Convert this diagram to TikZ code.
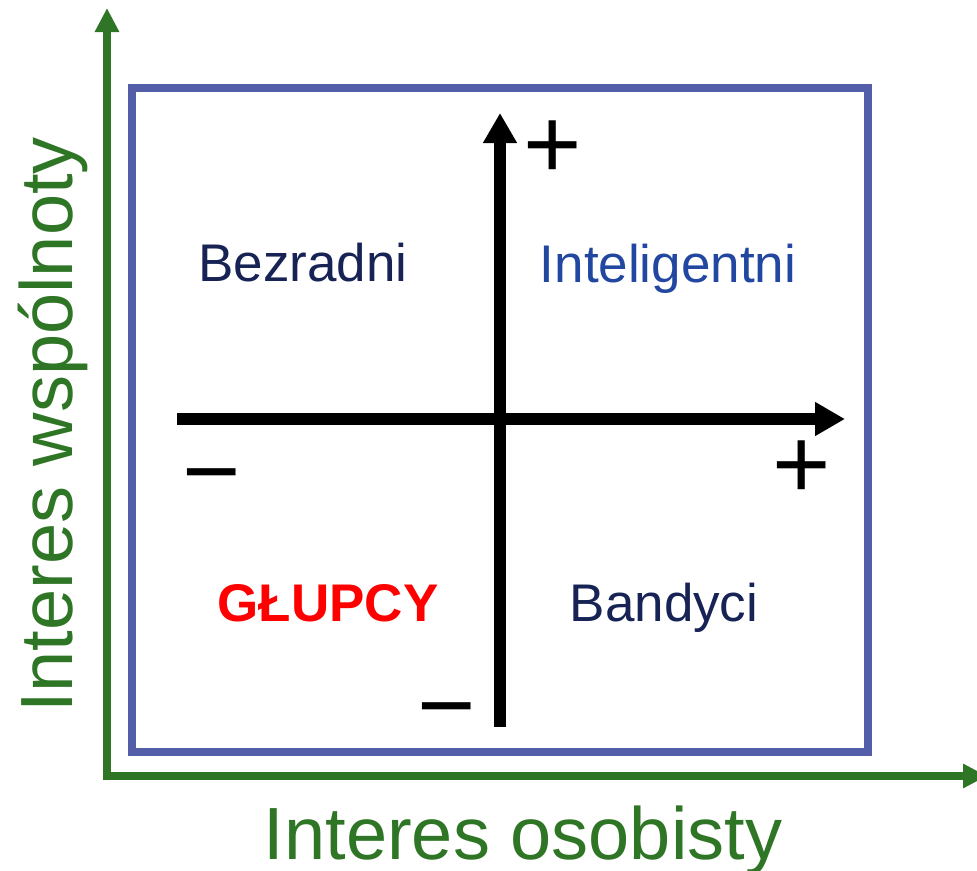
\documentclass[tikz,border=0pt]{standalone}
\usepackage{fontspec}
\setmainfont{Liberation Sans}
\usetikzlibrary{arrows.meta}
\definecolor{axgreen}{RGB}{47,117,38}
\definecolor{framebl}{RGB}{84,94,168}
\definecolor{navy}{RGB}{22,35,84}
\definecolor{intblue}{RGB}{33,71,160}
\begin{document}
\begin{tikzpicture}[x=1pt,y=-1pt,
  greenax/.style={draw=axgreen,line width=8pt,-{Triangle[length=24pt,width=23pt]}},
  blackax/.style={draw=black,line width=12pt,-{Triangle[length=30pt,width=32pt]}},
  quad/.style={font=\fontsize{53}{60}\selectfont,inner sep=0pt,anchor=base},
  sign/.style={font=\fontsize{100}{110}\selectfont,inner sep=0pt,anchor=center},
  axlabel/.style={font=\fontsize{74}{84}\selectfont,text=axgreen,inner sep=0pt,anchor=base}]
\useasboundingbox (0,0) rectangle (977,870);
% frame
\node[draw=framebl,line width=8pt,minimum width=736pt,minimum height=664pt,inner sep=0pt,anchor=center] (frame) at (499.5,420) {};
% green axes
\coordinate (gorigin) at (107,779);
\coordinate (gytop) at (107,8);
\coordinate (gxstart) at (103,776);
\coordinate (gxend) at (987,776);
\draw[greenax] (gorigin) -- (gytop);
\draw[greenax] (gxstart) -- (gxend);
% black axes
\coordinate (bybot) at (500,727);
\coordinate (bytop) at (500,113);
\coordinate (bxleft) at (177,419);
\coordinate (bxright) at (845,419);
\draw[blackax] (bybot) -- (bytop);
\draw[blackax] (bxleft) -- (bxright);
% signs
\node[sign] (plustop) at (553,150) {+};
\node[sign] (plusright) at (802,470) {+};
\node[sign] (minusleft) at (212,487) {−};
\node[sign] (minusbot) at (447,721) {−};
% quadrant labels
\node[quad,text=navy] (bez) at (303,281) {Bezradni};
\node[quad,text=intblue] (int) at (668,282) {Inteligentni};
\node[quad,text=red,font=\fontsize{53}{60}\selectfont\bfseries] (glu) at (328,621) {GŁUPCY};
\node[quad,text=navy] (ban) at (664,621) {Bandyci};
% axis labels
\node[axlabel] (xlab) at (523,859) {Interes osobisty};
\node[axlabel,rotate=90] (ylab) at (72,425) {Interes wspólnoty};
\end{tikzpicture}
\end{document}
